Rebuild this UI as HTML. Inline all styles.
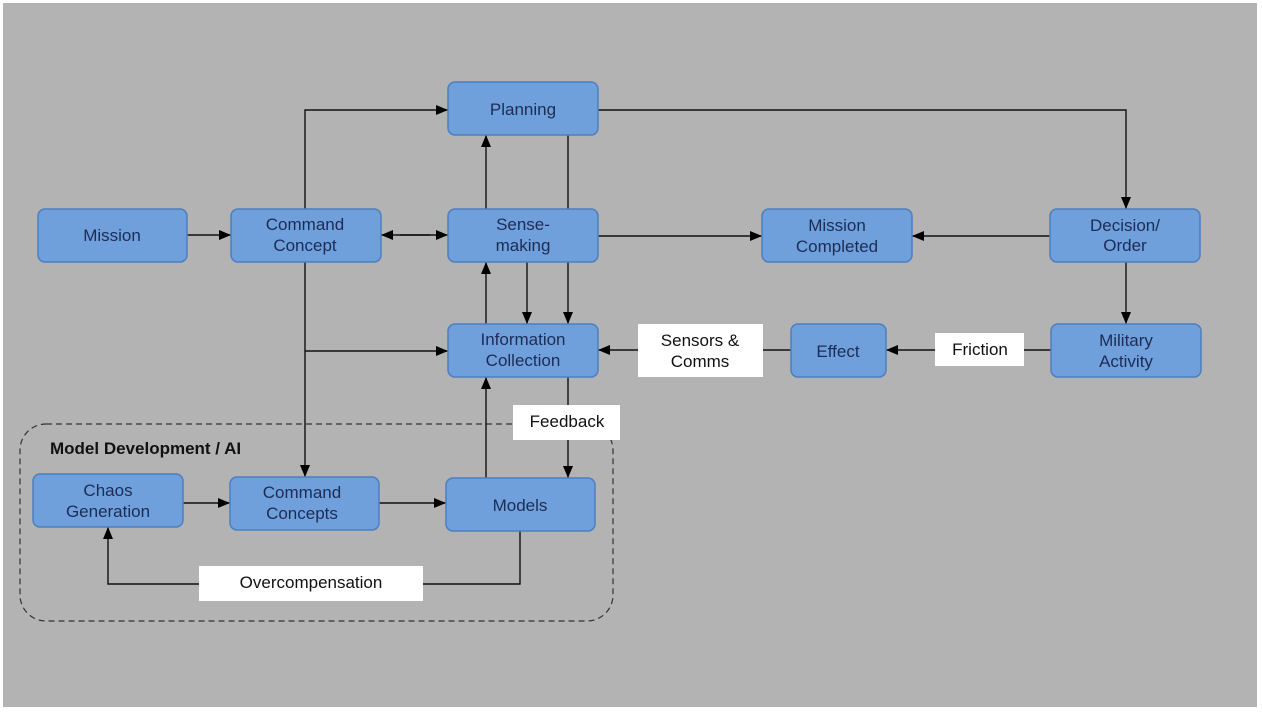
<!DOCTYPE html>
<html><head><meta charset="utf-8"><style>
html,body{margin:0;padding:0;background:#fff;}
svg{display:block;}
.b{fill:#6fa0dc;stroke:#4d7fc0;stroke-width:1.5;}
.t{font-family:"Liberation Sans",sans-serif;font-size:17px;fill:#1c2c55;text-anchor:middle;}
.w{fill:#fff;}
.l{font-family:"Liberation Sans",sans-serif;font-size:17px;fill:#111;text-anchor:middle;}
.c{stroke:#111;stroke-width:1.4;fill:none;}
</style></head><body>
<svg width="1262" height="713" viewBox="0 0 1262 713" xmlns="http://www.w3.org/2000/svg">
<defs><marker id="a" markerWidth="12" markerHeight="10" refX="12" refY="5" orient="auto" markerUnits="userSpaceOnUse"><path d="M0,0 L12,5 L0,10 z" fill="#000"/></marker></defs>
<rect x="3" y="3" width="1254" height="704" fill="#b3b3b3"/>
<rect x="20" y="424" width="593" height="197" rx="26" fill="none" stroke="#333" stroke-width="1.2" stroke-dasharray="6,4"/>
<text x="50" y="454" font-family="Liberation Sans,sans-serif" font-size="17" font-weight="bold" fill="#111">Model Development / AI</text>
<!-- connectors -->
<g class="c" marker-end="url(#a)">
<path d="M187 235 H231"/>
<path d="M305 209 V110 H448"/>
<path d="M486 209 V135"/>
<path d="M598 110 H1126 V209"/>
<path d="M598 236 H762"/>
<path d="M1050 236 H912"/>
<path d="M1126 262 V324"/>
<path d="M1051 350 H886"/>
<path d="M791 350 H598"/>
<path d="M527 262 V324"/>
<path d="M568 262 V324"/>
<path d="M486 324 V262"/>
<path d="M305 262 V477"/>
<path d="M305 351 H448"/>
<path d="M568 377 V478"/>
<path d="M486 478 V377"/>
<path d="M183 503 H230"/>
<path d="M379 503 H446"/>
<path d="M520 531 V584 H108 V527"/>
</g>
<path class="c" d="M568 135 V209"/>
<path class="c" d="M400 235 H448" marker-end="url(#a)"/>
<path class="c" d="M430 235 H381" marker-end="url(#a)"/>
<!-- boxes -->
<rect class="b" x="38" y="209" width="149" height="53" rx="7"/><text class="t" x="112" y="241">Mission</text>
<rect class="b" x="231" y="209" width="150" height="53" rx="7"/><text class="t" x="305" y="230">Command</text><text class="t" x="305" y="251">Concept</text>
<rect class="b" x="448" y="82" width="150" height="53" rx="7"/><text class="t" x="523" y="115">Planning</text>
<rect class="b" x="448" y="209" width="150" height="53" rx="7"/><text class="t" x="523" y="230">Sense-</text><text class="t" x="523" y="251">making</text>
<rect class="b" x="762" y="209" width="150" height="53" rx="7"/><text class="t" x="837" y="231">Mission</text><text class="t" x="837" y="252">Completed</text>
<rect class="b" x="1050" y="209" width="150" height="53" rx="7"/><text class="t" x="1125" y="231">Decision/</text><text class="t" x="1125" y="251">Order</text>
<rect class="b" x="448" y="324" width="150" height="53" rx="7"/><text class="t" x="523" y="345">Information</text><text class="t" x="523" y="366">Collection</text>
<rect class="b" x="791" y="324" width="95" height="53" rx="7"/><text class="t" x="838" y="357">Effect</text>
<rect class="b" x="1051" y="324" width="150" height="53" rx="7"/><text class="t" x="1126" y="346">Military</text><text class="t" x="1126" y="367">Activity</text>
<rect class="b" x="33" y="474" width="150" height="53" rx="7"/><text class="t" x="108" y="496">Chaos</text><text class="t" x="108" y="517">Generation</text>
<rect class="b" x="230" y="477" width="149" height="53" rx="7"/><text class="t" x="302" y="498">Command</text><text class="t" x="302" y="519">Concepts</text>
<rect class="b" x="446" y="478" width="149" height="53" rx="7"/><text class="t" x="520" y="511">Models</text>
<!-- labels -->
<rect class="w" x="638" y="324" width="125" height="53"/><text class="l" x="700" y="346">Sensors &amp;</text><text class="l" x="700" y="367">Comms</text>
<rect class="w" x="935" y="333" width="89" height="33"/><text class="l" x="980" y="355">Friction</text>
<rect class="w" x="513" y="405" width="107" height="35"/><text class="l" x="567" y="427">Feedback</text>
<rect class="w" x="199" y="566" width="224" height="35"/><text class="l" x="311" y="588">Overcompensation</text>
</svg>
</body></html>
